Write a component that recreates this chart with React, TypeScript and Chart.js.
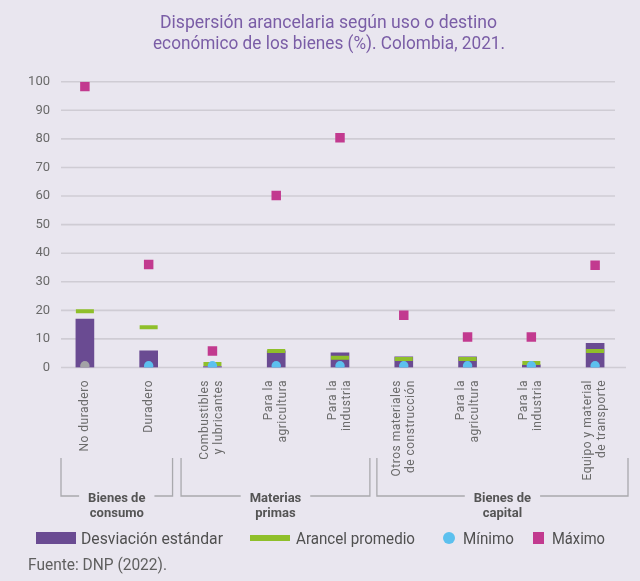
import React, { useEffect, useRef } from "react";
import { Chart, registerables } from "chart.js";
Chart.register(...registerables);

const categories: string[][] = [
  ["No duradero"],
  ["Duradero"],
  ["Combustibles", "y lubricantes"],
  ["Para la", "agricultura"],
  ["Para la", "industria"],
  ["Otros materiales", "de construcción"],
  ["Para la", "agricultura"],
  ["Para la", "industria"],
  ["Equipo y material", "de transporte"],
];
const desviacion = [16.9, 5.8, 0.3, 5.8, 5.1, 3.7, 3.7, 0.9, 8.5];
const promedio = [19.7, 14.1, 1.2, 5.8, 3.4, 3.0, 3.0, 1.6, 5.8];
const minimo = [0.6, 0.6, 0.6, 0.6, 0.6, 0.6, 0.6, 0.6, 0.6];
const maximo = [98.3, 36, 5.8, 60.2, 80.4, 18.3, 10.7, 10.7, 35.8];
const groupLabels: string[][] = [["Bienes de", "consumo"], ["Materias", "primas"], ["Bienes de", "capital"]];
const groupFrom = [0, 2, 5];
const groupTo = [1, 4, 8];
const yMin = 0;
const yMax = 100;
const yStep = 10;

const title = ["Dispersión arancelaria según uso o destino", "económico de los bienes (%). Colombia, 2021."];
const legendLabels = ["Desviación estándar", "Arancel promedio", "Mínimo", "Máximo"];
const source = "Fuente: DNP (2022).";

const BG = "#e9e6ef";
const PURPLE = "#6a4b92";
const GREEN = "#8fbf2a";
const CYAN = "#5cc0ee";
const MAGENTA = "#c23a8f";
const GRID = "#cfccd4";
const FONT = "Roboto, 'Liberation Sans', sans-serif";

function fitText(ctx: CanvasRenderingContext2D, text: string, x: number, y: number, width: number, align: string) {
  const w = ctx.measureText(text).width;
  ctx.save();
  const left = align === "center" ? x - width / 2 : x;
  ctx.translate(left, y);
  ctx.scale(width / w, 1);
  ctx.textAlign = "left";
  ctx.fillText(text, 0, 0);
  ctx.restore();
}

const decor = {
  id: "decor",
  beforeDraw(chart: any) {
    const ctx = chart.ctx;
    ctx.save();
    ctx.fillStyle = BG;
    ctx.fillRect(0, 0, chart.width, chart.height);
    ctx.restore();
  },
  beforeDatasetsDraw(chart: any) {
    const ctx = chart.ctx;
    const y = chart.scales.y;
    const area = chart.chartArea;
    ctx.save();
    ctx.strokeStyle = GRID;
    ctx.lineWidth = 1.6;
    for (let v = yMin; v <= yMax; v += yStep) {
      const py = y.getPixelForValue(v);
      ctx.beginPath();
      ctx.moveTo(area.left + 8, py);
      ctx.lineTo(v === 0 ? area.right - 1 : area.right - 12, py);
      ctx.stroke();
    }
    ctx.restore();
  },
  afterDraw(chart: any) {
    const ctx = chart.ctx;
    const x = chart.scales.x;
    const area = chart.chartArea;
    ctx.save();
    // Title
    ctx.fillStyle = "#7a5da6";
    ctx.font = `18px ${FONT}`;
    ctx.textBaseline = "alphabetic";
    fitText(ctx, title[0], 328.5, 28, 337, "center");
    fitText(ctx, title[1], 329, 48.5, 352, "center");

    // Category labels (rotated)
    ctx.fillStyle = "#6b6b6b";
    ctx.font = `12px ${FONT}`;
    (ctx as any).letterSpacing = "0.5px";
    const lh = 14;
    categories.forEach((lines, i) => {
      const px = x.getPixelForValue(i);
      ctx.save();
      ctx.translate(px, area.bottom + 12.5);
      ctx.rotate(-Math.PI / 2);
      ctx.textAlign = "right";
      ctx.textBaseline = "middle";
      lines.forEach((ln, j) => {
        ctx.fillText(ln, 0, (j - (lines.length - 1) / 2) * lh);
      });
      ctx.restore();
    });
    (ctx as any).letterSpacing = "0px";

    // Group brackets
    const catW = x.getPixelForValue(1) - x.getPixelForValue(0);
    const insetL = [8, 0.5, 5];
    const insetR = [8, 2, -1];
    const top = 458;
    const base = 496;
    ctx.font = `bold 13px ${FONT}`;
    groupLabels.forEach((lab, g) => {
      const x1 = x.getPixelForValue(groupFrom[g]) - catW / 2 + insetL[g];
      const x2 = x.getPixelForValue(groupTo[g]) + catW / 2 - insetR[g];
      const cx = (x1 + x2) / 2;
      const tw = Math.max(...lab.map((l) => ctx.measureText(l).width));
      ctx.strokeStyle = "#a9a9ad";
      ctx.lineWidth = 1.3;
      ctx.beginPath();
      ctx.moveTo(x1, top);
      ctx.lineTo(x1, base);
      ctx.lineTo(cx - tw / 2 - 9, base);
      ctx.moveTo(cx + tw / 2 + 9, base);
      ctx.lineTo(x2, base);
      ctx.lineTo(x2, top);
      ctx.stroke();
      ctx.fillStyle = "#555555";
      ctx.textAlign = "center";
      ctx.textBaseline = "alphabetic";
      ctx.fillText(lab[0], cx, 502);
      ctx.fillText(lab[1], cx, 516.5);
    });

    // Legend
    ctx.font = `17px ${FONT}`;
    ctx.textBaseline = "alphabetic";
    const ly = 538;
    ctx.fillStyle = PURPLE;
    ctx.fillRect(36, 532, 40, 12);
    ctx.fillStyle = GREEN;
    ctx.fillRect(250, 535, 40, 6);
    ctx.fillStyle = CYAN;
    ctx.beginPath();
    ctx.arc(449, ly, 6, 0, Math.PI * 2);
    ctx.fill();
    ctx.fillStyle = MAGENTA;
    ctx.fillRect(533, 532, 11, 12);
    ctx.fillStyle = "#505050";
    fitText(ctx, legendLabels[0], 81, 544, 142, "left");
    fitText(ctx, legendLabels[1], 296, 544, 119, "left");
    fitText(ctx, legendLabels[2], 463, 544, 51, "left");
    fitText(ctx, legendLabels[3], 552, 544, 53, "left");

    // Source
    ctx.fillStyle = "#5f5f5f";
    fitText(ctx, source, 28, 569.5, 139, "left");
    ctx.restore();
  },
};

export default function App() {
  const ref = useRef<HTMLCanvasElement>(null);
  useEffect(() => {
    if (!ref.current) return;
    const chart = new Chart(ref.current, {
      type: "bar",
      data: {
        labels: categories.map((c) => c.join(" ")),
        datasets: [
          {
            type: "bar",
            label: legendLabels[0],
            data: desviacion,
            backgroundColor: PURPLE,
            barThickness: 18,
            order: 4,
          } as any,
          {
            type: "line",
            label: legendLabels[1],
            data: promedio,
            showLine: false,
            pointStyle: "line",
            pointRadius: 9,
            pointBorderWidth: 4,
            borderColor: GREEN,
            pointBorderColor: GREEN,
            order: 3,
          },
          {
            type: "line",
            label: legendLabels[2],
            data: minimo,
            showLine: false,
            pointStyle: "circle",
            pointRadius: 4.7,
            pointBorderWidth: 0,
            pointBackgroundColor: minimo.map((_, i) => (i === 0 ? "#a3a3a6" : CYAN)),
            order: 2,
          },
          {
            type: "line",
            label: legendLabels[3],
            data: maximo,
            showLine: false,
            pointStyle: "rect",
            pointRadius: 6.7,
            pointBorderWidth: 0,
            pointBackgroundColor: MAGENTA,
            order: 1,
          },
        ],
      },
      options: {
        responsive: false,
        animation: false,
        events: [],
        devicePixelRatio: 1,
        layout: { padding: { top: 81.7, right: 9, left: 0, bottom: 581 - 367.5 - 100 } },
        plugins: { legend: { display: false }, tooltip: { enabled: false }, title: { display: false } },
        scales: {
          x: {
            offset: true,
            grid: { display: false, drawTicks: false },
            border: { display: false },
            ticks: { display: false },
            afterFit: (s: any) => {
              s.height = 100;
            },
          },
          y: {
            min: yMin,
            max: yMax,
            grid: { display: false, drawTicks: false },
            border: { display: false },
            ticks: {
              stepSize: yStep,
              padding: 3,
              color: "#6a6a6a",
              font: { family: FONT, size: 13 },
            },
            afterFit: (s: any) => {
              s.width = 53;
            },
          },
        },
      },
      plugins: [decor],
    });
    return () => chart.destroy();
  }, []);
  return (
    <div style={{ position: "absolute", left: 0, top: 0, width: 640, height: 581, background: BG }}>
      <canvas ref={ref} width={640} height={581} style={{ display: "block" }} />
    </div>
  );
}
